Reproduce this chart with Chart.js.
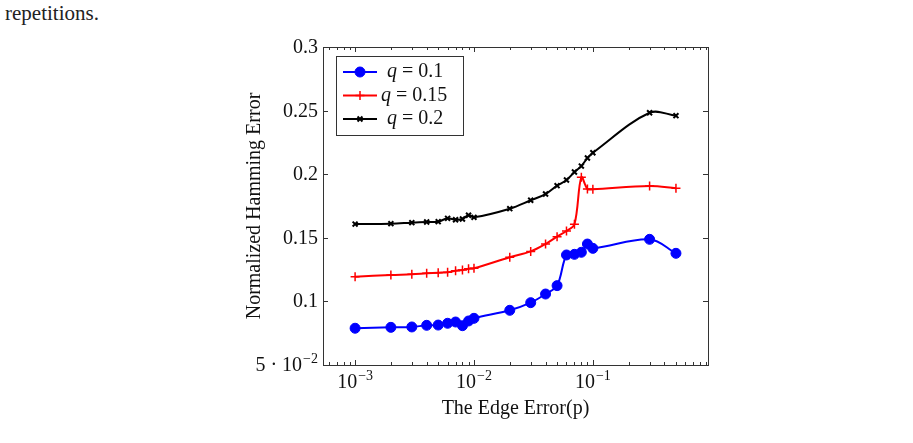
<!DOCTYPE html>
<html>
<head>
<meta charset="utf-8">
<script src="https://cdn.jsdelivr.net/npm/chart.js@4"></script>
<style>
  html, body { margin: 0; padding: 0; background: #fff; }
  #wrap { position: relative; width: 913px; height: 443px; }
  #cap { position: absolute; left: 5px; top: 1px; font: 21px "Liberation Serif", serif; color: #222; }
  canvas { position: absolute; left: 0; top: 0; }
</style>
</head>
<body>
<div id="wrap">
  <div id="cap">repetitions.</div>
  <canvas id="chart" width="913" height="443"></canvas>
</div>
<script>
"use strict";

const FONT = '"Liberation Serif", serif';
const FS = 20;

const pValues = [0.001, 0.002, 0.003, 0.004, 0.005, 0.006, 0.007, 0.008, 0.009, 0.01,
  0.02, 0.03, 0.04, 0.05, 0.06, 0.07, 0.08, 0.09, 0.1, 0.3, 0.5];

const q010 = [0.0789, 0.0796, 0.0799, 0.0812, 0.0814, 0.0828, 0.0838, 0.0809, 0.0846, 0.0867,
  0.0930, 0.0990, 0.1058, 0.1124, 0.1365, 0.1370, 0.1386, 0.1451, 0.1417, 0.1488, 0.1378];

const q015 = [0.1194, 0.1208, 0.1213, 0.1221, 0.1226, 0.1229, 0.1241, 0.1247, 0.1257, 0.1260,
  0.1347, 0.1393, 0.1451, 0.1509, 0.1553, 0.1606, 0.1976, 0.1884, 0.1881, 0.1907, 0.1889];

const q020 = [0.1608, 0.1611, 0.1619, 0.1624, 0.1627, 0.1653, 0.1642, 0.1648, 0.1677, 0.1661,
  0.1729, 0.1795, 0.1844, 0.1910, 0.1954, 0.2017, 0.2064, 0.2127, 0.2169, 0.2483, 0.2460];

const xMajorTicks = [0.001, 0.01, 0.1];
const xTickExp = ["\u22123", "\u22122", "\u22121"];
const yTicks = [0.05, 0.1, 0.15, 0.2, 0.25, 0.3];
const yTickLabels = ["5 \u00B7 10|\u22122", "0.1", "0.15", "0.2", "0.25", "0.3"];

const X_MIN = 5.37e-4, X_MAX = 0.93;

const series = [
  { label: "0.1", data: q010, color: "#0000ff", style: "circle", radius: 5, bw: 1 },
  { label: "0.15", data: q015, color: "#ff0000", style: "cross", radius: 4.5, bw: 1.5 },
  { label: "0.2", data: q020, color: "#000000", style: "crossRot", radius: 3.5, bw: 2 },
];

const majorIndex = (v) => xMajorTicks.findIndex((m) => Math.abs(m - v) < m * 1e-6);

// draws "base^sup"; align: "center" or "right"; y is the baseline
function drawPow(ctx, base, sup, x, y, align) {
  ctx.font = FS + "px " + FONT;
  const bw = ctx.measureText(base).width;
  ctx.font = Math.round(FS * 0.72) + "px " + FONT;
  const sw = ctx.measureText(sup).width;
  const total = bw + sw + 1;
  const x0 = align === "right" ? x - total : x - total / 2;
  ctx.textAlign = "left";
  ctx.textBaseline = "alphabetic";
  ctx.font = FS + "px " + FONT;
  ctx.fillText(base, x0, y);
  ctx.font = Math.round(FS * 0.72) + "px " + FONT;
  ctx.fillText(sup, x0 + bw + 1, y - FS * 0.42);
}

// pgfplots-style inner ticks, frame, tick labels and legend
const framePlugin = {
  id: "frame",
  afterDraw(chart) {
    const { ctx, chartArea: a, scales } = chart;
    ctx.save();
    ctx.strokeStyle = "#333";
    ctx.lineWidth = 1;
    ctx.beginPath();
    for (const t of scales.x.ticks) {
      const px = Math.round(scales.x.getPixelForValue(t.value)) + 0.5;
      const len = majorIndex(t.value) >= 0 ? 5 : 3;
      ctx.moveTo(px, a.bottom); ctx.lineTo(px, a.bottom - len);
      ctx.moveTo(px, a.top); ctx.lineTo(px, a.top + len);
    }
    for (const t of scales.y.ticks) {
      const py = Math.round(scales.y.getPixelForValue(t.value)) + 0.5;
      ctx.moveTo(a.left, py); ctx.lineTo(a.left + 5, py);
      ctx.moveTo(a.right, py); ctx.lineTo(a.right - 5, py);
    }
    ctx.stroke();
    ctx.strokeRect(Math.round(a.left) + 0.5, Math.round(a.top) + 0.5,
      Math.round(a.right - a.left), Math.round(a.bottom - a.top));

    // tick labels
    ctx.fillStyle = "#111";
    xMajorTicks.forEach((v, i) => {
      drawPow(ctx, "10", xTickExp[i], scales.x.getPixelForValue(v), a.bottom + 23, "center");
    });
    yTicks.forEach((v, i) => {
      const py = scales.y.getPixelForValue(v);
      const [base, sup] = yTickLabels[i].split("|");
      if (sup) {
        drawPow(ctx, base, sup, a.left - 5, py + 6, "right");
      } else {
        ctx.font = FS + "px " + FONT;
        ctx.textAlign = "right";
        ctx.textBaseline = "alphabetic";
        ctx.fillText(base, a.left - 5, py + 6);
      }
    });

    // legend
    const lx = a.left + 13, ly = a.top + 9, lw = 127, lh = 79;
    ctx.fillStyle = "#fff";
    ctx.fillRect(lx, ly, lw, lh);
    ctx.strokeStyle = "#333";
    ctx.strokeRect(lx + 0.5, ly + 0.5, lw, lh);
    series.forEach((s, i) => {
      const cy = ly + 16 + i * 23.5;
      ctx.strokeStyle = s.color;
      ctx.lineWidth = 2;
      ctx.beginPath();
      ctx.moveTo(lx + 7, cy); ctx.lineTo(lx + 41, cy);
      ctx.stroke();
      ctx.fillStyle = s.color;
      ctx.lineWidth = s.bw;
      Chart.helpers.drawPoint(ctx, { pointStyle: s.style, radius: s.radius, borderWidth: s.bw }, lx + 24, cy);
      ctx.fillStyle = "#111";
      ctx.textBaseline = "middle";
      ctx.textAlign = "left";
      const tx = i === 1 ? lx + 45 : lx + 51;
      ctx.font = "italic " + FS + "px " + FONT;
      ctx.fillText("q", tx, cy);
      const qw = ctx.measureText("q").width;
      ctx.font = FS + "px " + FONT;
      ctx.fillText(" = " + s.label, tx + qw, cy);
    });
    ctx.restore();
  },
};

new Chart(document.getElementById("chart"), {
  type: "line",
  data: {
    labels: pValues,
    datasets: series.map((s) => ({
      label: "q = " + s.label,
      data: pValues.map((p, i) => ({ x: p, y: s.data[i] })),
      borderColor: s.color,
      backgroundColor: s.color,
      pointStyle: s.style,
      pointRadius: s.radius,
      pointBorderWidth: s.bw,
      borderWidth: 2,
      tension: 0.35,
      fill: false,
    })),
  },
  plugins: [framePlugin],
  options: {
    responsive: false,
    animation: false,
    events: [],
    layout: { padding: { left: 243, right: 205, top: 47, bottom: 20 } },
    plugins: { legend: { display: false }, tooltip: { enabled: false } },
    scales: {
      x: {
        type: "logarithmic",
        min: X_MIN,
        max: X_MAX,
        grid: { display: false },
        border: { display: false },
        afterBuildTicks: (s) => {
          const ticks = [];
          for (let k = -4; k <= 0; k++) {
            for (let m = 1; m <= 9; m++) {
              const v = m * Math.pow(10, k);
              if (v >= X_MIN && v <= X_MAX) ticks.push({ value: v });
            }
          }
          s.ticks = ticks;
        },
        afterFit: (s) => { s.height = 58; },
        ticks: { autoSkip: false, maxRotation: 0, callback: () => "" },
        title: {
          display: true,
          text: "The Edge Error(p)",
          color: "#111",
          font: { family: FONT, size: FS },
          padding: { top: 0, bottom: 2 },
        },
      },
      y: {
        min: 0.05,
        max: 0.3,
        grid: { display: false },
        border: { display: false },
        afterBuildTicks: (s) => { s.ticks = yTicks.map((v) => ({ value: v })); },
        afterFit: (s) => { s.width = 80; },
        ticks: { callback: () => "" },
        title: {
          display: true,
          text: "Normalized Hamming Error",
          color: "#111",
          font: { family: FONT, size: FS },
          padding: { top: 0, bottom: 0 },
        },
      },
    },
  },
});
</script>
</body>
</html>
